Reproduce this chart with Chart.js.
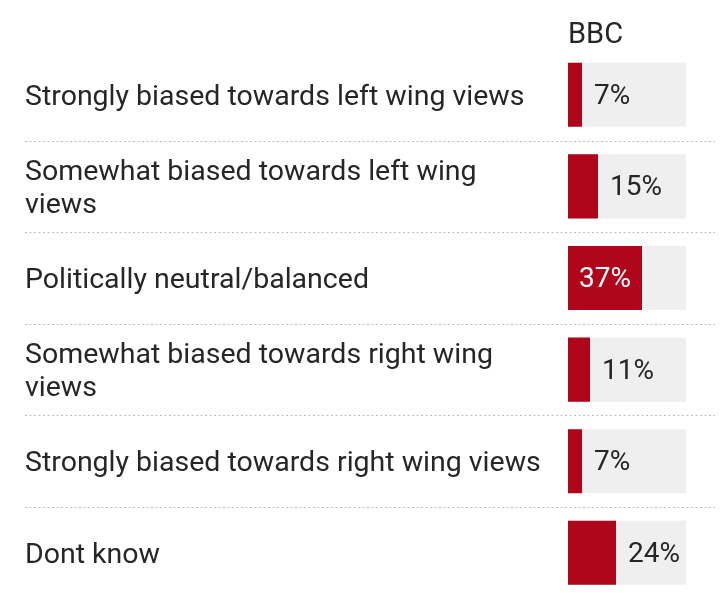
<!DOCTYPE html>
<html>
<head>
<meta charset="utf-8">
<script src="https://cdn.jsdelivr.net/npm/chart.js@4/dist/chart.umd.min.js"></script>
<style>
html,body{margin:0;padding:0;background:#fff;}
#wrap{width:720px;height:615px;position:relative;}
</style>
</head>
<body>
<div id="wrap"><canvas id="c"></canvas></div>
<script>
const categories = [
  ["Strongly biased towards left wing views"],
  ["Somewhat biased towards left wing", "views"],
  ["Politically neutral/balanced"],
  ["Somewhat biased towards right wing", "views"],
  ["Strongly biased towards right wing views"],
  ["Dont know"]
];
const seriesName = "BBC";
const bbcValues = [7, 15, 37, 11, 7, 24];
const TRACK_MAX = 59;

const FONT = "Roboto, 'Noto Sans', sans-serif";
const RED = "#b0061c";
const TRACK = "#efefef";
const TEXT = "#262626";

const overlay = {
  id: 'overlay',
  afterDatasetsDraw(chart) {
    const ctx = chart.ctx;
    const y = chart.scales.y;
    const area = chart.chartArea;
    ctx.save();
    // header
    ctx.fillStyle = TEXT;
    ctx.font = "29px " + FONT;
    ctx.textAlign = "left";
    ctx.textBaseline = "middle";
    ctx.fillText(seriesName, area.left, 36);
    // separators
    ctx.strokeStyle = "#bdbdbd";
    ctx.lineWidth = 1.2;
    ctx.setLineDash([2, 2.5]);
    for (let i = 0; i < categories.length - 1; i++) {
      const py = Math.round((y.getPixelForValue(i) + y.getPixelForValue(i + 1)) / 2) + 0.5;
      ctx.beginPath();
      ctx.moveTo(25, py);
      ctx.lineTo(715, py);
      ctx.stroke();
    }
    ctx.setLineDash([]);
    // value labels
    const meta = chart.getDatasetMeta(0);
    ctx.font = "28px " + FONT;
    meta.data.forEach((bar, i) => {
      const v = bbcValues[i];
      const txt = v + "%";
      if (v >= 30) {
        ctx.fillStyle = "#ffffff";
        ctx.textAlign = "center";
        ctx.fillText(txt, (bar.base + bar.x) / 2, bar.y + 2);
      } else {
        ctx.fillStyle = TEXT;
        ctx.textAlign = "left";
        ctx.fillText(txt, bar.x + 12, bar.y + 2);
      }
    });
    ctx.restore();
  }
};

new Chart(document.getElementById('c'), {
  type: 'bar',
  data: {
    labels: categories,
    datasets: [
      {
        label: seriesName,
        data: bbcValues,
        backgroundColor: RED,
        grouped: false,
        order: 0,
        barPercentage: 0.7,
        categoryPercentage: 1
      },
      {
        label: 'track',
        data: categories.map(() => TRACK_MAX),
        backgroundColor: TRACK,
        grouped: false,
        order: 1,
        barPercentage: 0.7,
        categoryPercentage: 1
      }
    ]
  },
  options: {
    indexAxis: 'y',
    responsive: true,
    maintainAspectRatio: false,
    animation: false,
    layout: { padding: { top: 49, bottom: 12, left: 25, right: 34 } },
    plugins: { legend: { display: false }, tooltip: { enabled: false } },
    scales: {
      x: { display: false, min: 0, max: TRACK_MAX },
      y: {
        grid: { display: false },
        border: { display: false },
        afterFit(scale) { scale.width = 543; },
        ticks: {
          crossAlign: 'far',
          padding: 0,
          labelOffset: 3,
          color: TEXT,
          font: { family: FONT, size: 28.5, lineHeight: 1.15 }
        }
      }
    }
  },
  plugins: [overlay]
});
</script>
</body>
</html>
